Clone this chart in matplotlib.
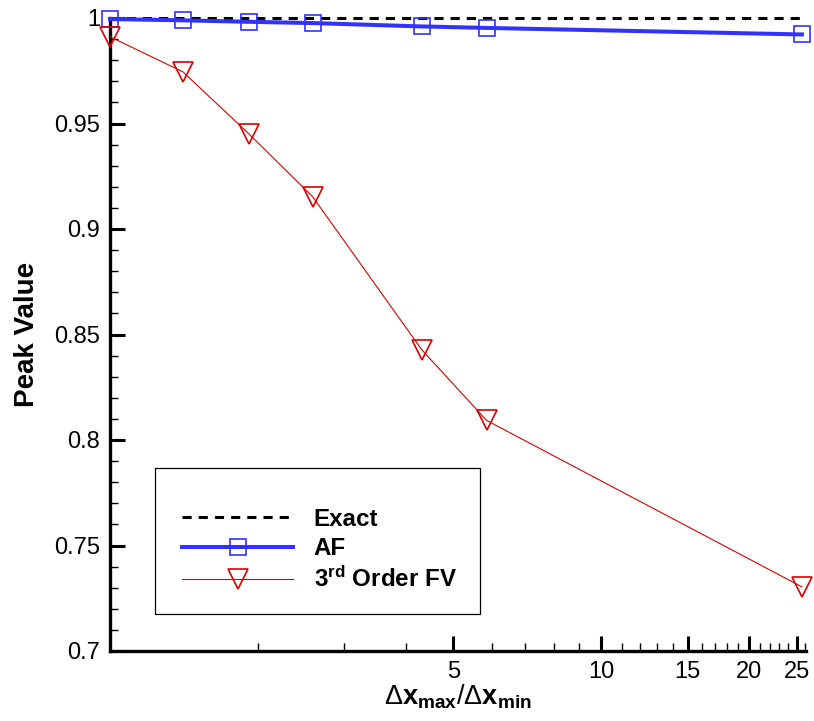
import matplotlib
matplotlib.use("Agg")
import matplotlib.pyplot as plt
from matplotlib.ticker import FixedLocator, NullFormatter, FuncFormatter
from matplotlib.patches import Rectangle

plt.rcParams['font.family'] = ['Liberation Sans', 'DejaVu Sans']
plt.rcParams['mathtext.fontset'] = 'custom'
plt.rcParams['mathtext.rm'] = 'Liberation Sans'
plt.rcParams['mathtext.bf'] = 'Liberation Sans:bold'
plt.rcParams['mathtext.it'] = 'Liberation Sans:italic'

# Data
ratio = [1.0, 1.407, 1.915, 2.585, 4.31, 5.84, 25.6]
exact = [1.0, 1.0, 1.0, 1.0, 1.0, 1.0, 1.0]
af = [0.9995, 0.9989, 0.9982, 0.9976, 0.9960, 0.9953, 0.9922]
fv3 = [0.9911, 0.9745, 0.9452, 0.9153, 0.8428, 0.8093, 0.7304]

x_major = [5, 10, 15, 20, 25]
x_minor = [2, 3, 4, 6, 7, 8, 9, 11, 12, 13, 14, 16, 17, 18, 19, 21, 22, 23, 24, 26]
y_major = [0.7, 0.75, 0.8, 0.85, 0.9, 0.95, 1.0]
y_minor = [round(0.70 + 0.01 * i, 2) for i in range(31)]

blue = '#3232ff'
red = '#dc0000'

fig = plt.figure(figsize=(8.14, 7.21), dpi=100)
W, H = 814, 721
L, R, T, B = 110, 806, 18, 651
ax = fig.add_axes([L / W, (H - B) / H, (R - L) / W, (B - T) / H])

ax.set_xscale('log')
ax.set_xlim(1.0, 26.1)
ax.set_ylim(0.7, 1.0)

ax.plot(ratio, exact, color='black', lw=2.2, dashes=(3.0, 2.3), label='Exact',
        clip_on=False, zorder=3)
ax.plot(ratio, af, color=blue, lw=2.9, marker='s', ms=12, mfc='none', mec=blue,
        mew=1.2, label='AF', clip_on=False, zorder=4)
ax.plot(ratio, fv3, color=red, lw=0.8, marker='v', ms=15, mfc='none', mec=red,
        mew=1.2, label=r'3$^{\mathbf{rd}}$ Order FV', clip_on=False, zorder=5)

for s in ['top', 'right']:
    ax.spines[s].set_visible(False)
for s in ['left', 'bottom']:
    ax.spines[s].set_linewidth(2.4)

ax.xaxis.set_major_locator(FixedLocator(x_major))
ax.xaxis.set_minor_locator(FixedLocator(x_minor))
ax.xaxis.set_major_formatter(FuncFormatter(lambda v, p: '%g' % v))
ax.xaxis.set_minor_formatter(NullFormatter())
ax.yaxis.set_major_locator(FixedLocator(y_major))
ax.yaxis.set_minor_locator(FixedLocator(y_minor))
ax.yaxis.set_major_formatter(FuncFormatter(lambda v, p: '%g' % v))

ax.tick_params(which='major', direction='in', length=11, width=2.2,
               labelsize=17, pad=7, top=False, right=False)
ax.tick_params(which='minor', direction='in', length=6, width=1.0,
               top=False, right=False)

ax.set_ylabel('Peak Value', fontsize=20, fontweight='bold', labelpad=10)
ax.set_xlabel(r'$\Delta\mathbf{x}_{\mathbf{max}}/\Delta\mathbf{x}_{\mathbf{min}}$',
              fontsize=19.5, labelpad=0)

# legend box
x0 = (155 - L) / (R - L)
y0 = (B - 614) / (B - T)
w = (480 - 155) / (R - L)
h = (614 - 468) / (B - T)
ax.add_patch(Rectangle((x0, y0), w, h, transform=ax.transAxes, fill=False,
                       edgecolor='black', lw=0.9, zorder=6, clip_on=False))
leg = ax.legend(loc='center left',
                bbox_to_anchor=((182 - L) / (R - L), (B - 550) / (B - T)),
                frameon=False, borderpad=0, borderaxespad=0, numpoints=1,
                handlelength=4.6, handletextpad=0.85, labelspacing=0.27,
                prop={'weight': 'bold', 'size': 17.4})

fig.savefig('out.png', dpi=100)
